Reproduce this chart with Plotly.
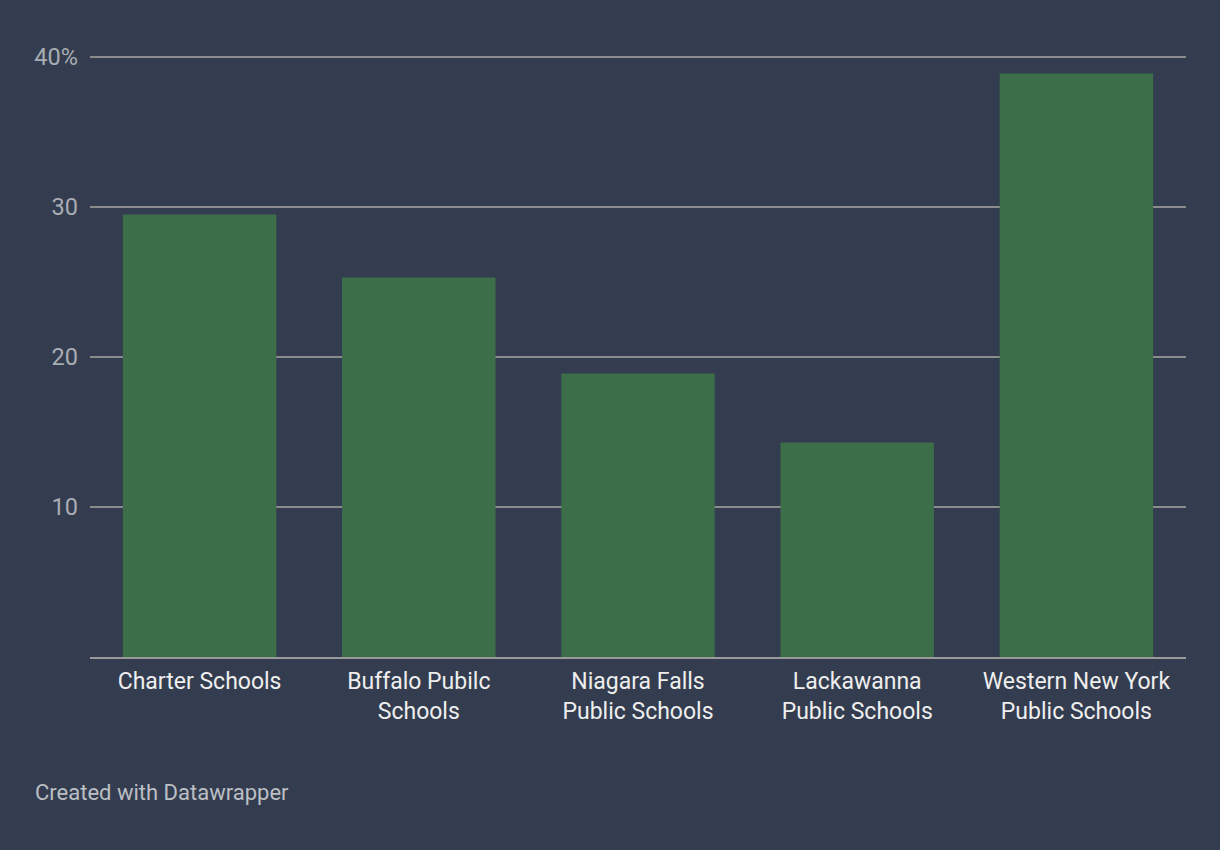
import plotly.graph_objects as go

categories = ["Charter Schools", "Buffalo Pubilc<br>Schools", "Niagara Falls<br>Public Schools",
              "Lackawanna<br>Public Schools", "Western New York<br>Public Schools"]
values = [29.5, 25.3, 18.9, 14.3, 38.9]
tick_vals = [10, 20, 30, 40]
tick_text = ["10", "20", "30", "40%"]

BG = "#333d4f"
fig = go.Figure(go.Bar(x=categories, y=values, marker_color="#3c6e4a", marker_line_width=0,
                       hoverinfo="skip"))
fig.update_layout(
    width=1220, height=850, paper_bgcolor=BG, plot_bgcolor=BG,
    margin=dict(l=90, r=34, t=54, b=193),
    bargap=0.3, showlegend=False,
    font=dict(family="Roboto", size=20, color="#eeeeee"),
)
fig.update_xaxes(showgrid=False, showline=True, linecolor="#9a9a9a", linewidth=2,
                 ticks="", tickfont=dict(size=23, color="#eeeeee"), ticklabelstandoff=2)
fig.update_yaxes(range=[0, 40.2], tickvals=tick_vals, ticktext=tick_text, showgrid=True,
                 gridcolor="#8c8c8c", gridwidth=2, zeroline=False, showline=False, ticks="",
                 tickfont=dict(size=23.5, color="#a9adb3"), ticklabelstandoff=11)
fig.add_annotation(text="Created with Datawrapper", xref="paper", yref="paper",
                   x=-57/1096, y=-135/603, xanchor="left", yanchor="middle", showarrow=False,
                   font=dict(size=22, color="#bcbfc4"))
fig.write_html("out.html", config={"displayModeBar": False},
               post_script="document.body.style.margin='0';")
